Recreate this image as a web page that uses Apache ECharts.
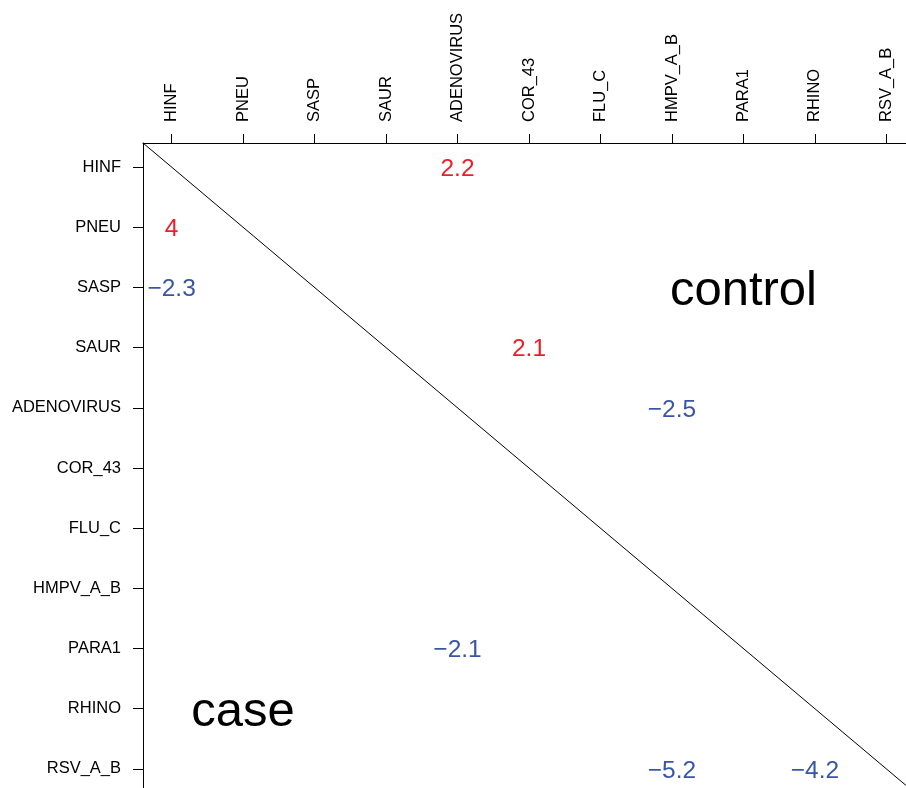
<!DOCTYPE html>
<html>
<head>
<meta charset="utf-8">
<script src="https://cdn.jsdelivr.net/npm/echarts@6/dist/echarts.min.js"></script>
<style>html,body{margin:0;padding:0;background:#fff;overflow:hidden;width:906px;height:788px;}#c{width:930px;height:810px;}</style>
</head>
<body>
<div id="c"></div>
<script>
const categories = ['HINF','PNEU','SASP','SAUR','ADENOVIRUS','COR_43','FLU_C','HMPV_A_B','PARA1','RHINO','RSV_A_B'];
// cell values: [row category, column category, value]
const valueRows = ['HINF','PNEU','SASP','SAUR','ADENOVIRUS','PARA1','RSV_A_B','RSV_A_B'];
const valueCols = ['ADENOVIRUS','HINF','HINF','COR_43','HMPV_A_B','ADENOVIRUS','HMPV_A_B','RHINO'];
const values = [2.2, 4, -2.3, 2.1, -2.5, -2.1, -5.2, -4.2];
const regionLabels = ['control','case'];
const regionRows = ['SASP','RHINO'];
const regionCols = ['PARA1','PNEU'];

const RED = '#ee1c25', BLUE = '#3a55a5';
const FONT = '"Liberation Sans", Arial, Helvetica, sans-serif';
const idx = c => categories.indexOf(c) + 1;
const ticks = categories.map((c, i) => i + 1);
const n = categories.length;
const pad = (n - 1) * 0.04;
const lo = 1 - pad, hi = n + pad;

const fmtMinus = v => (v < 0 ? '\u2212' + Math.abs(v) : String(v));

const cellData = values.map((v, i) => ({
  value: [idx(valueCols[i]), idx(valueRows[i]), v],
  label: { color: v < 0 ? BLUE : RED }
}));
const regionData = regionLabels.map((t, i) => ({
  value: [idx(regionCols[i]), idx(regionRows[i])],
  name: t
}));

const chart = echarts.init(document.getElementById('c'), null, { renderer: 'canvas' });
chart.setOption({
  animation: false,
  backgroundColor: '#fff',
  grid: { left: 143, top: 143, width: 772, height: 650, containLabel: false },
  xAxis: {
    type: 'value', position: 'top', min: lo, max: hi,
    splitLine: { show: false },
    axisLine: { show: true, lineStyle: { color: '#000', width: 1 } },
    axisTick: { show: true, length: 9, customValues: ticks, lineStyle: { color: '#000' } },
    axisLabel: {
      customValues: ticks, rotate: -90, margin: 21,
      formatter: v => categories[Math.round(v) - 1] || '',
      fontFamily: FONT, fontSize: 16.5, color: '#000'
    }
  },
  yAxis: {
    type: 'value', inverse: true, min: lo, max: hi,
    splitLine: { show: false },
    axisLine: { show: true, lineStyle: { color: '#000', width: 1 } },
    axisTick: { show: true, length: 10, customValues: ticks, lineStyle: { color: '#000' } },
    axisLabel: {
      customValues: ticks, margin: 22,
      formatter: v => categories[Math.round(v) - 1] || '',
      fontFamily: FONT, fontSize: 16.5, color: '#000'
    }
  },
  series: [
    {
      type: 'line', data: [[lo, lo], [hi, hi]], symbol: 'none',
      lineStyle: { color: '#000', width: 1 }, silent: true
    },
    {
      type: 'scatter', data: cellData, symbolSize: 0, silent: true,
      itemStyle: { opacity: 1 },
      label: {
        show: true, position: 'inside', offset: [0, 2], fontFamily: FONT, fontSize: 24.5,
        formatter: p => fmtMinus(p.value[2])
      }
    },
    {
      type: 'scatter', data: regionData, symbolSize: 0, silent: true,
      itemStyle: { opacity: 1 },
      label: {
        show: true, position: 'inside', offset: [0, 4], fontFamily: FONT, fontSize: 49, color: '#000',
        formatter: p => p.name
      }
    }
  ]
});
</script>
</body>
</html>
